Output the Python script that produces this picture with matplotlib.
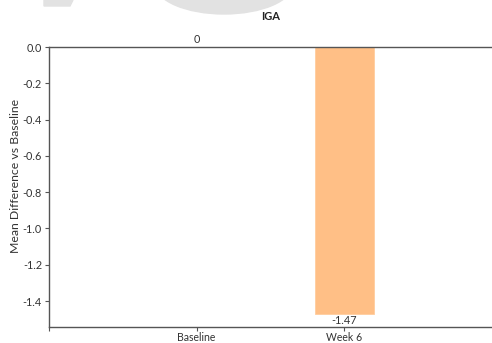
import numpy as np
import matplotlib
matplotlib.use("Agg")
from matplotlib import pyplot as plt
from matplotlib.patches import Polygon, Ellipse

categories = ["Baseline", "Week 6"]
values = [0, -1.47]
value_labels = ["0", "-1.47"]
y_ticks = [0.0, -0.2, -0.4, -0.6, -0.8, -1.0, -1.2, -1.4]

plt.rcParams['font.family'] = ['Lato', 'DejaVu Sans']

W, H = 492, 343
fig = plt.figure(figsize=(W / 100, H / 100), dpi=100)
ax = fig.add_axes([49 / W, 1 - 327 / H, 1 - 49 / W, (327 - 47) / H])

# faint watermark pieces cut off at the top of the image
fig.patches.append(Polygon([[44 / W, 1], [73 / W, 1], [70 / W, 1 - 6 / H], [44 / W, 1 - 6 / H]],
                           closed=True, transform=fig.transFigure, color="#e2e2e2", zorder=0))
fig.patches.append(Ellipse((224 / W, 1 + 16 / H), 138 / W, 60 / H,
                           transform=fig.transFigure, color="#e2e2e2", zorder=0))

x = np.arange(len(categories))
ax.bar(x, values, width=0.4, color="#ffbf86", edgecolor="#ffcd9e", linewidth=0.6, zorder=2)

for xi, v, lab in zip(x, values, value_labels):
    if v >= 0:
        ax.text(xi, v + 0.01, lab, ha="center", va="bottom", fontsize=7.8, color="#333333")
    else:
        ax.text(xi, v - 0.005, lab, ha="center", va="top", fontsize=7.8, color="#333333")

ax.set_xlim(-1, 2)
ax.set_ylim(-1.543, 0)
ax.set_xticks([-1] + list(x))
ax.set_xticklabels([""] + categories, fontsize=7.6, color="#333333")
ax.set_yticks(y_ticks)
ax.set_yticklabels(["%.1f" % t for t in y_ticks], fontsize=7.8, color="#333333")
ax.tick_params(length=3, width=0.8, color="#555555", pad=2)
ax.tick_params(axis="x", pad=0.5)

for s in ["left", "bottom", "top"]:
    ax.spines[s].set_color("#555555")
    ax.spines[s].set_linewidth(1)
ax.spines["right"].set_visible(False)

ax.set_ylabel("Mean Difference vs Baseline", fontsize=8.8, color="#333333")
ax.yaxis.set_label_coords(-0.064, 0.54)
fig.text((49 + W) / 2 / W, 1 - 16 / H, "IGA", ha="center", va="center",
         fontsize=8, fontweight="bold", color="#222222")

fig.savefig("out.png", dpi=100)
